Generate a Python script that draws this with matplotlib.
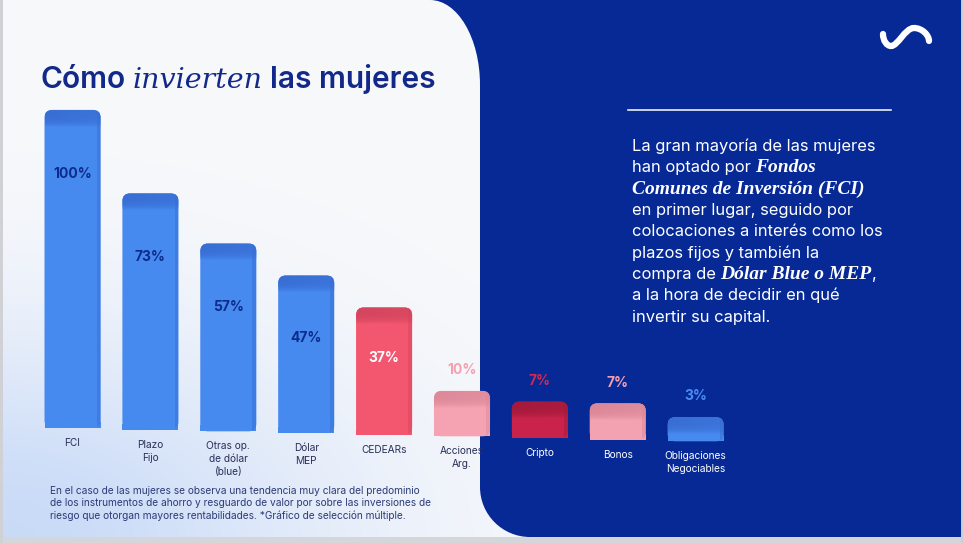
import numpy as np
import matplotlib.pyplot as plt
from matplotlib.colors import to_rgb
from matplotlib.patches import FancyBboxPatch, Rectangle, PathPatch
from matplotlib.path import Path

# data
categories = ["FCI", "Plazo\nFijo", "Otras op.\nde dólar\n(blue)", "Dólar\nMEP", "CEDEARs",
              "Acciones\nArg.", "Cripto", "Bonos", "Obligaciones\nNegociables"]
values = [100, 73, 57, 47, 37, 10, 7, 7, 3]

front_colors = ["#4689ef", "#4689ef", "#4689ef", "#4689ef", "#f3566f",
                "#f5a3b3", "#c9224b", "#f3a2b2", "#4689ef"]
top_colors = ["#386dd3", "#386dd3", "#386dd3", "#386dd3", "#d2455d",
              "#dc8898", "#a21a3b", "#da8696", "#386dd3"]
value_colors = ["#0c2b8c", "#0c2b8c", "#0c2b8c", "#0c2b8c", "white",
                "#f5a0b1", "#d02a50", "#f3a0b3", "#4a8cf2"]
label_colors = ["#2a3158"] * 6 + ["white"] * 3

plt.rcParams['font.family'] = ['Inter', 'DejaVu Sans']

W, H = 963, 543
NAVY = "#062996"
fig = plt.figure(figsize=(W / 100, H / 100), dpi=100)
bg = fig.add_axes([0, 0, 1, 1])
bg.axis('off')

# soft blue glow in the lower left of the white panel
yy, xx = np.mgrid[0:H, 0:W]
d2 = (xx / 420.0) ** 2 + ((H - yy) / 260.0) ** 2
w = (0.62 * np.exp(-1.5 * d2))[..., None]
base = np.array([248, 249, 251]) / 255
glow = np.array([172, 200, 246]) / 255
bg.imshow(base * (1 - w) + glow * w, extent=[0, W, H, 0], aspect='auto',
          zorder=0, interpolation='bilinear')
bg.set_xlim(0, W)
bg.set_ylim(H, 0)

# dark panel with rounded corners
k = 0.5523
verts = [(430, 0), (W, 0), (W, 537), (530, 537),
         (530 - 50 * k, 537), (480, 487 + 50 * k), (480, 487),
         (480, 85),
         (480, 85 - 85 * k), (430 + 50 * k, 0), (430, 0),
         (430, 0)]
codes = [Path.MOVETO, Path.LINETO, Path.LINETO, Path.LINETO,
         Path.CURVE4, Path.CURVE4, Path.CURVE4, Path.LINETO,
         Path.CURVE4, Path.CURVE4, Path.CURVE4, Path.CLOSEPOLY]
bg.add_patch(PathPatch(Path(verts, codes), fc=NAVY, ec='none', zorder=1))
bg.add_patch(Rectangle((0, 537), W, 6, fc="#d5d6d9", ec='none', zorder=2))
bg.add_patch(Rectangle((0, 0), 3, H, fc="#d0d1d4", ec='none', zorder=2))
bg.add_patch(Rectangle((W - 2, 0), 2, H, fc="#c9ccd6", ec='none', zorder=2))

# logo
lv = [(883, 34), (883, 41), (887, 46), (891, 46),
      (898, 46), (905, 28), (914, 28),
      (922, 28), (929, 35), (929, 41)]
lc = [Path.MOVETO] + [Path.CURVE4] * 9
bg.add_patch(PathPatch(Path(lv, lc), fc='none', ec='white', lw=4.5,
                       capstyle='round', zorder=3))

bg.plot([628, 891], [110, 110], color='white', lw=1.1, zorder=3)

renderer = fig.canvas.get_renderer()


def text_width(s, **kw):
    t = bg.text(0, 0, s, **kw)
    wd = t.get_window_extent(renderer=renderer).width
    t.remove()
    return wd


def run_line(x, y, parts, **common):
    for s, kw in parts:
        kw = {**common, **kw}
        if s == ' ':
            x += text_width('a a', **kw) - text_width('aa', **kw)
            continue
        t = bg.text(x, y, s, va='baseline', ha='left', zorder=4, **kw)
        x += t.get_window_extent(renderer=renderer).width


# title
sans_t = dict(fontsize=21.5, fontweight='semibold', color="#13298a")
serif_t = dict(family='DejaVu Serif', style='italic', fontsize=20.5, color="#13298a")
run_line(40, 88, [("Cómo", sans_t), (" ", sans_t), ("invierten", serif_t),
                  (" ", sans_t), ("las mujeres", sans_t)])

# right panel text
R = dict(fontsize=11.9, color='white')
BI = dict(family='Liberation Serif', style='italic', fontweight='bold', fontsize=14, color='white')
right_lines = [
    [("La gran mayoría de las mujeres", R)],
    [("han optado por", R), (" ", R), ("Fondos", BI)],
    [("Comunes de Inversión (FCI)", BI)],
    [("en primer lugar, seguido por", R)],
    [("colocaciones a interés como los", R)],
    [("plazos fijos y también la", R)],
    [("compra de", R), (" ", R), ("Dólar Blue o MEP", BI), (",", R)],
    [("a la hora de decidir en qué", R)],
    [("invertir su capital.", R)],
]
for j, parts in enumerate(right_lines):
    run_line(632, 151 + 21.35 * j, parts)

# footnote
foot = ["En el caso de las mujeres se observa una tendencia muy clara del predominio",
        "de los instrumentos de ahorro y resguardo de valor por sobre las inversiones de",
        "riesgo que otorgan mayores rentabilidades. *Gráfico de selección múltiple."]
for j, s in enumerate(foot):
    bg.text(50, 494 + 12.5 * j, s, fontsize=7.3, color="#2d3b78", va='baseline', zorder=4)

# bars: y = -5 sits at pixel 428, y = 110 at pixel 79.6
s = (428 - 79.6) / 115
ylo = -15
bot_px = 428 + (-5 - ylo) * s
ax = fig.add_axes([33.6 / W, (H - bot_px) / H, 701 / W, (bot_px - 79.6) / H])
ax.axis('off')
ax.patch.set_alpha(0)
asp = (701 / 9) / s
drop = 0.55   # slight perspective: bars further right sit a little lower
bw = 0.72
cap = 5.5
tt = np.linspace(0, 1, 80)
vert = 0.95 * (1 - tt ** 4)
horiz = np.linspace(1.0, 0.8, 80)
for i, v in enumerate(values):
    b = -5 - drop * i
    top = v - drop * i
    x0 = i - bw / 2
    bar = FancyBboxPatch((x0, b), bw, top - b,
                         boxstyle='round,pad=0,rounding_size=0.1',
                         mutation_aspect=asp, fc=front_colors[i], ec='none', zorder=1)
    ax.add_patch(bar)
    ax.add_patch(Rectangle((x0, b), bw, 2, fc=front_colors[i], ec='none', zorder=1))
    # darker top face fading into the front face
    grad = np.zeros((80, 80, 4))
    grad[..., :3] = to_rgb(top_colors[i])
    grad[..., 3] = vert[:, None] * horiz[None, :]
    im = ax.imshow(grad, extent=[x0, x0 + bw, top - cap, top], aspect='auto',
                   interpolation='bilinear', zorder=2)
    im.set_clip_path(bar)
    # thin shaded right side
    side = Rectangle((x0 + bw - 0.05, b), 0.05, top - b, fc=top_colors[i], alpha=0.45,
                     ec='none', zorder=2)
    ax.add_patch(side)
    side.set_clip_path(bar)
    if v >= 20:
        ty = top - min(21, 0.4 * (v + 5))
    else:
        ty = top + 6.8
    ax.text(i, ty, f"{v}%", ha='center', va='center', fontsize=10,
            fontweight='bold', color=value_colors[i], zorder=3)
    ax.text(i, b - 3.3, categories[i], ha='center', va='top', fontsize=7.3,
            color=label_colors[i], linespacing=1.38)

ax.set_xlim(-0.5, 8.5)
ax.set_ylim(ylo, 110)

fig.savefig("out.png", dpi=100)
